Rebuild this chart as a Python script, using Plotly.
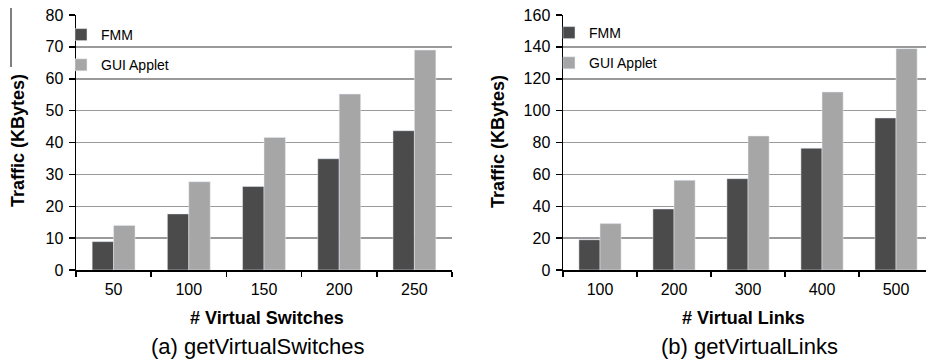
import plotly.graph_objects as go

# ---- data ----
switch_cats = ["50", "100", "150", "200", "250"]
switch_fmm = [8.9, 17.6, 26.2, 34.9, 43.7]
switch_gui = [14.0, 27.7, 41.6, 55.2, 69.0]

link_cats = ["100", "200", "300", "400", "500"]
link_fmm = [19.0, 38.3, 57.3, 76.4, 95.4]
link_gui = [29.1, 56.3, 84.1, 111.7, 138.9]

series_names = ["FMM", "GUI Applet"]
left_yticks = [0, 10, 20, 30, 40, 50, 60, 70, 80]
right_yticks = [0, 20, 40, 60, 80, 100, 120, 140, 160]

W, H = 926, 360
C_FMM = "#4b4b4b"
C_GUI = "#a6a6a6"
FONT = "Liberation Sans, Arial, sans-serif"

def px(x):
    return x / W

def py(y):
    return 1 - y / H

fig = go.Figure()
fig.add_trace(go.Bar(x=switch_cats, y=switch_fmm, name=series_names[0], marker_color=C_FMM,
                     xaxis="x", yaxis="y", legend="legend", legendgroup="a1"))
fig.add_trace(go.Bar(x=switch_cats, y=switch_gui, name=series_names[1], marker_color=C_GUI,
                     xaxis="x", yaxis="y", legend="legend", legendgroup="a2"))
fig.add_trace(go.Bar(x=link_cats, y=link_fmm, name=series_names[0], marker_color=C_FMM,
                     xaxis="x2", yaxis="y2", legend="legend2", legendgroup="b1"))
fig.add_trace(go.Bar(x=link_cats, y=link_gui, name=series_names[1], marker_color=C_GUI,
                     xaxis="x2", yaxis="y2", legend="legend2", legendgroup="b2"))

ydom = [py(270), py(15)]
xcommon = dict(showline=True, linecolor="black", linewidth=1.5, ticks="outside",
               ticklen=5, tickcolor="black", tickwidth=1.5, tickson="boundaries",
               showgrid=False, tickfont=dict(size=16, color="black", family=FONT),
               ticklabelstandoff=4,
               type="category", automargin=False, fixedrange=True)
ycommon = dict(showline=True, linecolor="black", linewidth=1.5, ticks="outside",
               ticklen=6, tickcolor="black", tickwidth=1.5, showgrid=True,
               gridcolor="#9a9a9a", gridwidth=1.5, zeroline=False,
               tickfont=dict(size=16, color="black", family=FONT),
               ticklabelstandoff=2,
               automargin=False, fixedrange=True, domain=ydom)

fig.update_layout(
    width=W, height=H,
    margin=dict(l=0, r=0, t=0, b=0),
    paper_bgcolor="white", plot_bgcolor="white",
    barmode="group", bargap=0.43, bargroupgap=0,
    font=dict(family=FONT, color="black"),
    xaxis=dict(domain=[px(76), px(452)], range=[-0.5, 4.5], anchor="y", **xcommon),
    yaxis=dict(range=[0, 80], tickvals=left_yticks, anchor="x", **ycommon),
    xaxis2=dict(domain=[px(563), 1.0], range=[-0.5, 4.405], anchor="y2", **xcommon),
    yaxis2=dict(range=[0, 160], tickvals=right_yticks, anchor="x2", **ycommon),
    legend=dict(x=px(61), y=py(19), xanchor="left", yanchor="top",
                bgcolor="rgba(0,0,0,0)", tracegroupgap=9,
                font=dict(size=14, family=FONT, color="black")),
    legend2=dict(x=px(549), y=py(17), xanchor="left", yanchor="top",
                 bgcolor="rgba(0,0,0,0)", tracegroupgap=9,
                 font=dict(size=14, family=FONT, color="black")),
    showlegend=True,
)

bold = dict(size=18, family=FONT, color="black")
ann = [
    dict(text="<b>Traffic (KBytes)</b>", x=px(18), y=py(141), textangle=-90, font=bold),
    dict(text="<b>Traffic (KBytes)</b>", x=px(498), y=py(141), textangle=-90, font=bold),
    dict(text="<b># Virtual Switches</b>", x=px(267), y=py(318), font=bold),
    dict(text="<b># Virtual Links</b>", x=px(743), y=py(318), font=bold),
    dict(text="(a) getVirtualSwitches", x=px(258), y=py(346), font=dict(size=22, family=FONT, color="black")),
    dict(text="(b) getVirtualLinks", x=px(749), y=py(346), font=dict(size=22, family=FONT, color="black")),
]
for a in ann:
    fig.add_annotation(xref="paper", yref="paper", showarrow=False,
                       xanchor="center", yanchor="middle", **a)

fig.add_shape(type="line", xref="paper", yref="paper",
              x0=px(11), x1=px(11), y0=py(8), y1=py(67),
              line=dict(color="black", width=1))

fig.write_html(
    "out.html",
    config={"displayModeBar": False, "staticPlot": True},
    post_script="document.body.style.margin='0';document.documentElement.style.overflow='hidden';",
)
